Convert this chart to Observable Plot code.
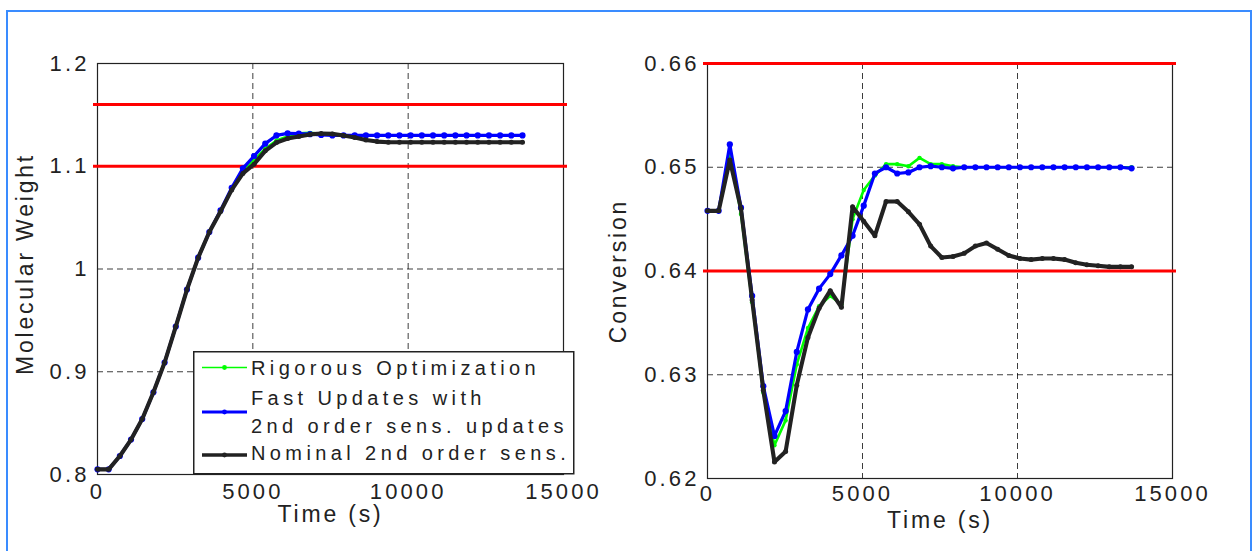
<!DOCTYPE html>
<html>
<head>
<meta charset="utf-8">
<script src="https://cdn.jsdelivr.net/npm/d3@7"></script>
<script src="https://cdn.jsdelivr.net/npm/@observablehq/plot@0.6"></script>
<style>
  html, body { margin: 0; padding: 0; background: #fff; }
  body { width: 1260px; height: 551px; overflow: hidden; position: relative; font-family: "Liberation Sans", Arial, sans-serif; }
  #frame { position: absolute; left: 6px; top: 10px; width: 1246px; height: 600px; border: 2px solid #3a8cff; box-sizing: border-box; }
  .panel { position: absolute; top: 0; }
  .panel svg { overflow: visible; }
  .panel g[aria-label$="tick label"] text { letter-spacing: 3.1px; }
  .panel g[aria-label="text"] text { letter-spacing: 2.8px; }
  #legend { position: absolute; left: 193px; top: 351px; }
  #legend text { font-family: "Liberation Sans", Arial, sans-serif; font-size: 20px; letter-spacing: 4.4px; fill: #222; }
</style>
</head>
<body>
<div id="frame"></div>
<div id="left" class="panel" style="left:0px"></div>
<div id="right" class="panel" style="left:600px"></div>
<svg id="legend" width="382" height="124"></svg>
<script>
// ---- data ----
const time = [0,360,720,1080,1440,1800,2160,2520,2880,3240,3600,3960,4320,4680,5040,5400,5760,6120,6480,6840,7200,7560,7920,8280,8640,9000,9360,9720,10080,10440,10800,11160,11520,11880,12240,12600,12960,13320,13680];

const mwRigorous = [0.805,0.805,0.818,0.834,0.854,0.880,0.909,0.944,0.980,1.011,1.036,1.056,1.078,1.096,1.106,1.117,1.125,1.129,1.132,1.1325,1.1315,1.1305,1.130,1.130,1.130,1.130,1.130,1.130,1.130,1.130,1.130,1.130,1.130,1.130,1.130,1.130,1.130,1.130,1.130];
const mwFast = [0.805,0.805,0.818,0.834,0.854,0.880,0.909,0.944,0.980,1.011,1.036,1.057,1.079,1.098,1.110,1.122,1.130,1.132,1.1318,1.1312,1.1305,1.130,1.130,1.130,1.130,1.130,1.130,1.130,1.130,1.130,1.130,1.130,1.130,1.130,1.130,1.130,1.130,1.130,1.130];
const mwNominal = [0.805,0.805,0.818,0.834,0.854,0.880,0.909,0.944,0.980,1.011,1.036,1.056,1.077,1.093,1.102,1.115,1.123,1.127,1.129,1.131,1.1318,1.1315,1.130,1.128,1.1255,1.124,1.1234,1.1234,1.1234,1.1234,1.1234,1.1234,1.1234,1.1234,1.1234,1.1234,1.1234,1.1234,1.1234];

const convRigorous = [0.6458,0.6458,0.6515,0.6455,0.6370,0.6283,0.6232,0.6256,0.6310,0.6345,0.6366,0.6376,0.6368,0.6450,0.6478,0.6492,0.6503,0.6503,0.6501,0.6509,0.6503,0.6503,0.6501,0.6500,0.6500,0.6500,0.6500,0.6500,0.6500,0.6500,0.6500,0.6500,0.6500,0.6500,0.6500,0.6500,0.6500,0.6500,0.6500];
const convFast = [0.6458,0.6458,0.6522,0.6461,0.6376,0.6289,0.6241,0.6265,0.6322,0.6363,0.6383,0.6397,0.6415,0.6434,0.6463,0.6494,0.6500,0.6494,0.6495,0.6500,0.6501,0.6500,0.6499,0.6500,0.6500,0.6500,0.6500,0.6500,0.6500,0.6500,0.6500,0.6500,0.6500,0.6500,0.6500,0.6500,0.6500,0.6500,0.6499];
const convNominal = [0.6458,0.6458,0.6507,0.6460,0.6372,0.6285,0.6216,0.6226,0.6290,0.6336,0.6364,0.6381,0.6365,0.6462,0.6448,0.6434,0.6467,0.6467,0.6457,0.6445,0.6424,0.6413,0.6414,0.6417,0.6424,0.6427,0.6421,0.6415,0.6412,0.6411,0.6412,0.6412,0.6411,0.6408,0.6406,0.6405,0.6404,0.6404,0.6404];

const xTicks = [0, 5000, 10000, 15000];
const mwTicks = [0.8, 0.9, 1.0, 1.1, 1.2];
const convTicks = [0.62, 0.63, 0.64, 0.65, 0.66];
const mwLimits = [1.1, 1.16];
const convLimits = [0.64, 0.66];

const seriesNames = ["Rigorous Optimization", "Fast Updates with", "2nd order sens. updates", "Nominal 2nd order sens."];
const xLabel = "Time (s)";
const mwLabel = "Molecular Weight";
const convLabel = "Conversion";

// ---- styles ----
const GREEN = "#00ff00", BLUE = "#0000ff", BLACK = "#222222", RED = "#ff0000", INK = "#222";
const FONT = "'Liberation Sans', Arial, sans-serif";

function panel({width, marginLeft, marginRight, marginBottom, yDomain, yTicks, limits, green, blue, black, yLabel, yLabelDx, yLabelDy, xLabelDy, xPad}) {
  return Plot.plot({
    width, height: 551,
    marginLeft, marginRight, marginTop: 63, marginBottom,
    style: {fontFamily: FONT, fontSize: "22px", color: INK, background: "transparent", overflow: "visible"},
    x: {domain: [0, 15000]},
    y: {domain: yDomain},
    marks: [
      Plot.gridX(xTicks, {stroke: "#000", strokeOpacity: 0.85, strokeWidth: 0.9, strokeDasharray: "6,4"}),
      Plot.gridY(yTicks, {stroke: "#000", strokeOpacity: 0.85, strokeWidth: 0.9, strokeDasharray: "6,4"}),
      Plot.frame({stroke: "#222", strokeWidth: 1.2}),
      Plot.axisX(xTicks, {tickSize: 0, tickPadding: xPad, tickFormat: d => String(d), label: null, fontSize: 22, fill: INK}),
      Plot.axisY(yTicks, {tickSize: 0, tickPadding: 8, tickFormat: d => String(d), label: null, fontSize: 22, fill: INK}),
      Plot.ruleY(limits, {stroke: RED, strokeWidth: 3, insetLeft: -4, insetRight: -4}),
      Plot.line(time, {x: d => d, y: green, stroke: GREEN, strokeWidth: 2.6, strokeLinejoin: "round"}),
      Plot.dot(time, {x: d => d, y: green, r: 2.2, fill: GREEN, stroke: null}),
      Plot.line(time, {x: d => d, y: blue, stroke: BLUE, strokeWidth: 3.2, strokeLinejoin: "round"}),
      Plot.dot(time, {x: d => d, y: blue, r: 3.1, fill: BLUE, stroke: null}),
      Plot.line(time, {x: d => d, y: black, stroke: BLACK, strokeWidth: 4.1, strokeLinejoin: "round"}),
      Plot.dot(time, {x: d => d, y: black, r: 2.5, fill: BLACK, stroke: null}),
      Plot.text([xLabel], {frameAnchor: "bottom", dy: xLabelDy, lineAnchor: "middle", textAnchor: "middle", fontSize: 23, fill: INK}),
      Plot.text([yLabel], {frameAnchor: "left", rotate: -90, dx: yLabelDx, dy: yLabelDy, lineAnchor: "middle", textAnchor: "middle", fontSize: 23, fill: INK})
    ]
  });
}

document.getElementById("left").append(panel({
  width: 600, marginLeft: 97, marginRight: 37, marginBottom: 77,
  yDomain: [0.8, 1.2], yTicks: mwTicks, limits: mwLimits,
  green: mwRigorous, blue: mwFast, black: mwNominal,
  yLabel: mwLabel, yLabelDx: -72, yLabelDy: -5, xLabelDy: 40, xPad: 9
}));

document.getElementById("right").append(panel({
  width: 660, marginLeft: 107, marginRight: 88, marginBottom: 73,
  yDomain: [0.62, 0.66], yTicks: convTicks, limits: convLimits,
  green: convRigorous, blue: convFast, black: convNominal,
  yLabel: convLabel, yLabelDx: -89, yLabelDy: 0, xLabelDy: 42, xPad: 7
}));

// ---- legend ----
const lg = d3.select("#legend");
lg.append("rect").attr("x", 0.75).attr("y", 0.75).attr("width", 380).attr("height", 122)
  .attr("fill", "#fff").attr("stroke", "#222").attr("stroke-width", 1.5);
const swatches = [
  {color: GREEN, w: 1.6, y: 16.5},
  {color: BLUE, w: 3.2, y: 61},
  {color: BLACK, w: 3.4, y: 104}
];
swatches.forEach(s => {
  lg.append("line").attr("x1", 9).attr("x2", 54).attr("y1", s.y).attr("y2", s.y)
    .attr("stroke", s.color).attr("stroke-width", s.w);
  lg.append("circle").attr("cx", 31.5).attr("cy", s.y).attr("r", 2.4).attr("fill", s.color);
});
const baselines = [24, 54, 82, 109];
seriesNames.forEach((t, i) => {
  lg.append("text").attr("x", 58).attr("y", baselines[i]).text(t);
});
</script>
</body>
</html>
